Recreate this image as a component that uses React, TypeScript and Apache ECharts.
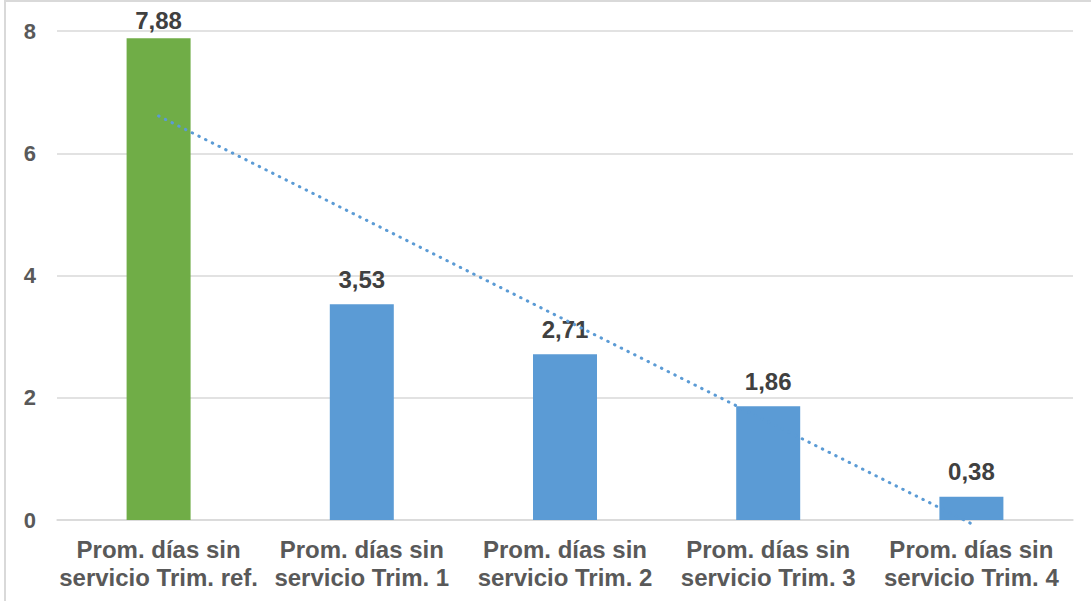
import React, { useEffect, useRef } from "react";
import * as echarts from "echarts";

const categories = [
  "Prom. días sin\nservicio Trim. ref.",
  "Prom. días sin\nservicio Trim. 1",
  "Prom. días sin\nservicio Trim. 2",
  "Prom. días sin\nservicio Trim. 3",
  "Prom. días sin\nservicio Trim. 4",
];
const values = [7.88, 3.53, 2.71, 1.86, 0.38];
const barColors = ["#70AD47", "#5B9BD5", "#5B9BD5", "#5B9BD5", "#5B9BD5"];
// linear trend line end points (first and last category)
const trendEnds = [6.61, -0.06];
const yTicks = { min: 0, max: 8, interval: 2 };

const FONT = "'Liberation Sans', Arial, sans-serif";

export default function App() {
  const ref = useRef<HTMLDivElement>(null);

  useEffect(() => {
    if (!ref.current) return;
    const chart = echarts.init(ref.current, null, { renderer: "svg" });
    const trendData = categories.map((_, i) =>
      i === 0 ? trendEnds[0] : i === categories.length - 1 ? trendEnds[1] : null
    );
    chart.setOption({
      animation: false,
      backgroundColor: "#ffffff",
      graphic: [
        {
          type: "rect",
          shape: { x: 5, y: 1, width: 1200, height: 800 },
          style: { fill: "none", stroke: "#d9d9d9", lineWidth: 2 },
          silent: true,
          z: -10,
        },
      ],
      grid: { left: 57, right: 18, top: 31, bottom: 81 },
      xAxis: {
        type: "category",
        data: categories,
        axisTick: { show: false },
        axisLine: { lineStyle: { color: "#d9d9d9", width: 1.5 } },
        axisLabel: {
          color: "#595959",
          fontFamily: FONT,
          fontWeight: "bold",
          fontSize: 24,
          lineHeight: 28,
          margin: 15,
          interval: 0,
        },
      },
      yAxis: {
        type: "value",
        min: yTicks.min,
        max: yTicks.max,
        interval: yTicks.interval,
        axisLine: { show: false },
        axisTick: { show: false },
        splitLine: { lineStyle: { color: "#d9d9d9", width: 1.5 } },
        axisLabel: {
          color: "#595959",
          fontFamily: FONT,
          fontWeight: "bold",
          fontSize: 22,
          margin: 21,
        },
      },
      series: [
        {
          type: "bar",
          barWidth: 64,
          data: values.map((v, i) => ({
            value: v,
            itemStyle: { color: barColors[i] },
            label: i === 0 ? { distance: 6 } : undefined,
          })),
          label: {
            show: true,
            position: "top",
            distance: 13,
            color: "#404040",
            fontFamily: FONT,
            fontWeight: "bold",
            fontSize: 24,
            formatter: (p: any) => p.value.toFixed(2).replace(".", ","),
          },
          z: 2,
        },
        {
          type: "line",
          data: trendData,
          connectNulls: true,
          clip: false,
          symbol: "none",
          silent: true,
          lineStyle: { color: "#5B9BD5", width: 3, type: [0.5, 7], cap: "round" },
          z: 3,
        },
      ],
    });
    return () => chart.dispose();
  }, []);

  return (
    <div
      ref={ref}
      style={{ position: "fixed", left: 0, top: 0, width: 1091, height: 601 }}
    />
  );
}
